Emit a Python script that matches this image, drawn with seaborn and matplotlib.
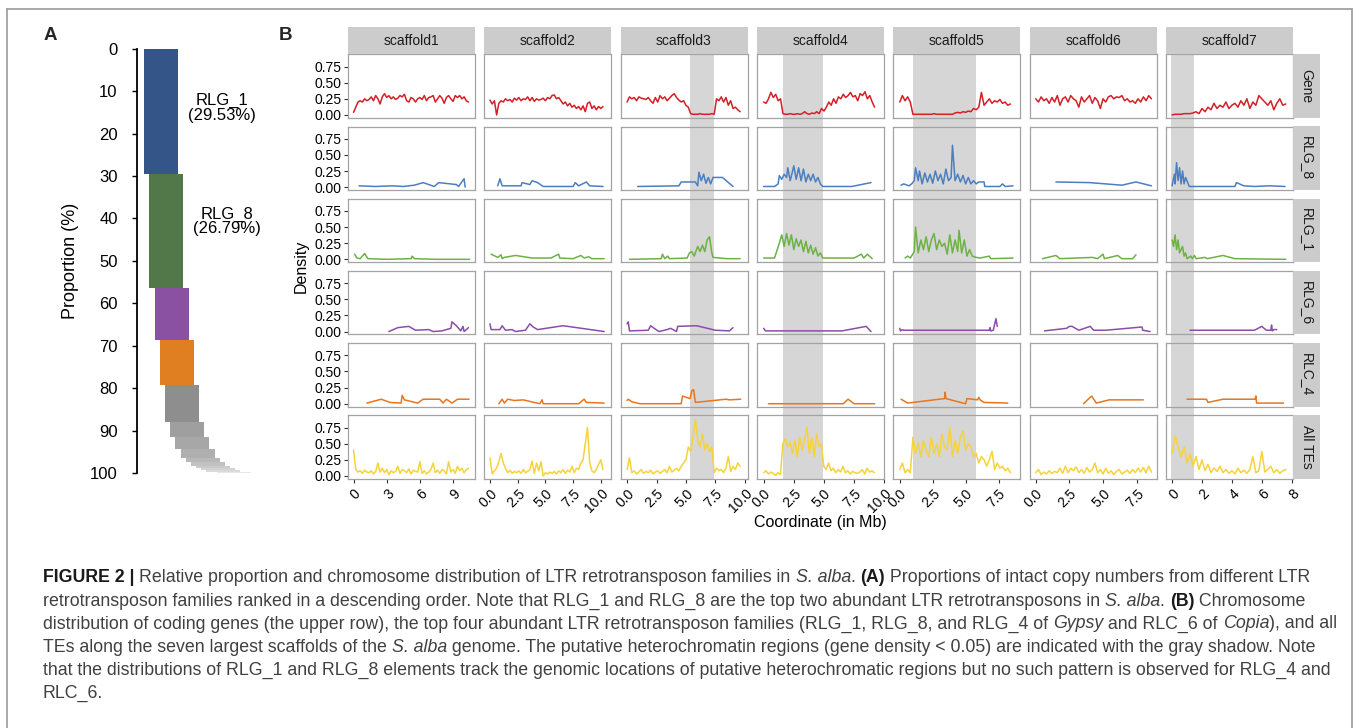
import numpy as np
import pandas as pd
import matplotlib
matplotlib.use('Agg')
import matplotlib.pyplot as plt
import matplotlib.transforms as mtransforms
from matplotlib.patches import Rectangle
from matplotlib.lines import Line2D
import seaborn as sns

#---------------------------- DATA: panel A --------------------------------
family_names = ['RLG_1', 'RLG_8', 'RLG_6', 'RLC_4'] + ['other'] * 11
family_props = [29.53, 26.79, 12.4, 10.6, 8.6, 3.5, 3.0, 2.0, 1.1, 0.8, 0.6, 0.45, 0.3, 0.2, 0.13]

#---------------------------- DATA: panel B --------------------------------
scaffolds = ['scaffold1', 'scaffold2', 'scaffold3', 'scaffold4', 'scaffold5', 'scaffold6', 'scaffold7']
tracks = ['Gene', 'RLG_8', 'RLG_1', 'RLG_6', 'RLC_4', 'All TEs']
window = 0.2   # Mb, window size of the dense density tracks

# Gene density, one value per window
gene_s1 = [0.04, 0.12, 0.2, 0.22, 0.2, 0.25, 0.22, 0.24, 0.28, 0.22, 0.3, 0.25, 0.17, 0.28, 0.33, 0.27, 0.3, 0.25,
           0.28, 0.24, 0.26, 0.3, 0.28, 0.32, 0.22, 0.2, 0.27, 0.25, 0.2, 0.25, 0.27, 0.24, 0.3, 0.22, 0.27, 0.28,
           0.3, 0.2, 0.25, 0.3, 0.26, 0.18, 0.27, 0.3, 0.25, 0.21, 0.3, 0.27, 0.3, 0.25, 0.28, 0.22, 0.2]
gene_s2 = [0.23, 0.17, 0.22, 0.0, 0.18, 0.22, 0.2, 0.25, 0.22, 0.24, 0.2, 0.26, 0.23, 0.27, 0.22, 0.25, 0.24, 0.28,
           0.22, 0.27, 0.21, 0.25, 0.23, 0.24, 0.26, 0.22, 0.27, 0.25, 0.3, 0.31, 0.25, 0.27, 0.22, 0.17, 0.2, 0.14,
           0.18, 0.12, 0.15, 0.1, 0.13, 0.08, 0.14, 0.05, 0.18, 0.2, 0.1, 0.14, 0.08, 0.13, 0.1, 0.13]
gene_s3 = [0.2, 0.28, 0.25, 0.27, 0.22, 0.28, 0.26, 0.25, 0.24, 0.27, 0.22, 0.18, 0.27, 0.2, 0.3, 0.25, 0.28, 0.22,
           0.26, 0.3, 0.33, 0.27, 0.23, 0.2, 0.22, 0.15, 0.12, 0.02, 0.01, 0.01, 0.01, 0.02, 0.01, 0.01, 0.01, 0.01,
           0.02, 0.01, 0.25, 0.22, 0.28, 0.2, 0.27, 0.15, 0.22, 0.1, 0.12, 0.08, 0.05]
gene_s4 = [0.2, 0.18, 0.25, 0.35, 0.27, 0.32, 0.22, 0.25, 0.02, 0.01, 0.01, 0.02, 0.01, 0.01, 0.02, 0.01, 0.02, 0.05,
           0.02, 0.01, 0.03, 0.02, 0.05, 0.02, 0.1, 0.06, 0.12, 0.2, 0.15, 0.25, 0.18, 0.28, 0.25, 0.32, 0.27, 0.3,
           0.35, 0.28, 0.3, 0.22, 0.33, 0.3, 0.36, 0.25, 0.3, 0.2, 0.12]
gene_s5 = [0.2, 0.3, 0.22, 0.28, 0.2, 0.01, 0.01, 0.01, 0.01, 0.01, 0.01, 0.01, 0.01, 0.02, 0.01, 0.01, 0.01, 0.01,
           0.01, 0.01, 0.01, 0.03, 0.04, 0.03, 0.05, 0.04, 0.06, 0.05, 0.1, 0.08, 0.12, 0.35, 0.15, 0.2, 0.25, 0.18,
           0.22, 0.2, 0.24, 0.18, 0.2, 0.15, 0.17]
gene_s6 = [0.25, 0.2, 0.28, 0.22, 0.25, 0.18, 0.27, 0.2, 0.3, 0.15, 0.25, 0.28, 0.2, 0.3, 0.25, 0.22, 0.12, 0.28,
           0.2, 0.25, 0.3, 0.18, 0.27, 0.22, 0.1, 0.25, 0.2, 0.28, 0.3, 0.25, 0.28, 0.27, 0.3, 0.22, 0.25, 0.2,
           0.22, 0.18, 0.25, 0.2, 0.28, 0.22, 0.3, 0.25]
gene_s7 = [0.0, 0.01, 0.01, 0.01, 0.02, 0.02, 0.02, 0.03, 0.05, 0.02, 0.1, 0.05, 0.12, 0.08, 0.18, 0.1, 0.15, 0.12,
           0.2, 0.1, 0.15, 0.18, 0.12, 0.22, 0.15, 0.25, 0.1, 0.2, 0.15, 0.3, 0.25, 0.2, 0.15, 0.22, 0.08, 0.18,
           0.25, 0.15, 0.17]

# All TEs density, one value per window
tes_s1 = [0.4, 0.1, 0.06, 0.08, 0.04, 0.09, 0.06, 0.05, 0.08, 0.03, 0.07, 0.2, 0.06, 0.12, 0.05, 0.1, 0.02, 0.08,
          0.05, 0.07, 0.15, 0.04, 0.1, 0.08, 0.05, 0.11, 0.03, 0.09, 0.07, 0.06, 0.22, 0.04, 0.08, 0.03, 0.06, 0.1,
          0.2, 0.05, 0.09, 0.04, 0.1, 0.08, 0.03, 0.22, 0.06, 0.1, 0.04, 0.15, 0.08, 0.12, 0.05, 0.1, 0.12]
tes_s2 = [0.28, 0.03, 0.08, 0.12, 0.22, 0.35, 0.2, 0.12, 0.05, 0.09, 0.04, 0.07, 0.05, 0.08, 0.04, 0.1, 0.05, 0.07,
          0.1, 0.23, 0.04, 0.2, 0.08, 0.22, 0.0, 0.05, 0.03, 0.06, 0.04, 0.07, 0.03, 0.08, 0.05, 0.1, 0.04, 0.09,
          0.06, 0.15, 0.05, 0.12, 0.1, 0.2, 0.25, 0.5, 0.75, 0.2, 0.08, 0.05, 0.1, 0.18, 0.25, 0.1]
tes_s3 = [0.1, 0.28, 0.05, 0.08, 0.03, 0.06, 0.1, 0.04, 0.07, 0.05, 0.09, 0.03, 0.06, 0.08, 0.04, 0.07, 0.1, 0.05,
          0.15, 0.06, 0.09, 0.12, 0.08, 0.15, 0.2, 0.25, 0.45, 0.38, 0.6, 0.88, 0.55, 0.45, 0.65, 0.4, 0.5, 0.38,
          0.45, 0.05, 0.12, 0.08, 0.1, 0.05, 0.12, 0.3, 0.07, 0.15, 0.1, 0.2, 0.15]
tes_s4 = [0.05, 0.08, 0.03, 0.06, 0.04, 0.01, 0.05, 0.02, 0.5, 0.58, 0.45, 0.52, 0.35, 0.55, 0.3, 0.6, 0.4, 0.55,
          0.75, 0.35, 0.6, 0.3, 0.65, 0.45, 0.5, 0.15, 0.1, 0.2, 0.08, 0.12, 0.05, 0.1, 0.06, 0.15, 0.05, 0.08,
          0.03, 0.07, 0.05, 0.04, 0.06, 0.1, 0.03, 0.12, 0.06, 0.08, 0.05]
tes_s5 = [0.1, 0.2, 0.05, 0.1, 0.05, 0.6, 0.35, 0.5, 0.3, 0.55, 0.4, 0.3, 0.6, 0.35, 0.5, 0.3, 0.65, 0.45, 0.4,
          0.75, 0.3, 0.55, 0.35, 0.6, 0.7, 0.4, 0.5, 0.45, 0.3, 0.35, 0.2, 0.3, 0.25, 0.15, 0.25, 0.38, 0.1, 0.2,
          0.12, 0.15, 0.08, 0.12, 0.05]
tes_s6 = [0.05, 0.1, 0.02, 0.06, 0.03, 0.08, 0.04, 0.07, 0.05, 0.12, 0.04, 0.15, 0.05, 0.12, 0.08, 0.14, 0.05, 0.1,
          0.04, 0.13, 0.06, 0.1, 0.2, 0.05, 0.1, 0.03, 0.12, 0.04, 0.08, 0.02, 0.07, 0.1, 0.03, 0.06, 0.09, 0.04,
          0.1, 0.05, 0.12, 0.06, 0.13, 0.05, 0.15, 0.06]
tes_s7 = [0.35, 0.62, 0.45, 0.3, 0.45, 0.2, 0.35, 0.15, 0.3, 0.1, 0.25, 0.08, 0.18, 0.05, 0.12, 0.07, 0.15, 0.05,
          0.1, 0.04, 0.08, 0.03, 0.12, 0.05, 0.09, 0.04, 0.1, 0.3, 0.05, 0.08, 0.38, 0.06, 0.1, 0.15, 0.05, 0.1,
          0.04, 0.08, 0.1]

# sparse families, (position Mb, density)
rlg8_s1 = [(0.5, 0.02), (2.0, 0.01), (3.5, 0.02), (4.5, 0.01), (5.5, 0.03), (6.3, 0.07), (7.3, 0.01), (7.7, 0.07),
           (9.3, 0.04), (9.5, 0.01), (10.0, 0.13), (10.1, 0.0)]
rlg8_s2 = [(0.7, 0.02), (0.9, 0.13), (1.1, 0.02), (2.8, 0.02), (2.9, 0.07), (3.6, 0.04), (3.8, 0.1), (4.3, 0.07),
           (4.8, 0.01), (7.5, 0.01), (7.7, 0.07), (8.0, 0.02), (8.7, 0.08), (9.0, 0.02), (10.2, 0.01)]
rlg8_s3 = [(0.9, 0.01), (4.4, 0.02), (4.6, 0.08), (5.8, 0.08), (6.0, 0.02), (6.1, 0.23), (6.3, 0.1), (6.5, 0.2),
           (6.7, 0.06), (6.9, 0.15), (7.1, 0.05), (7.3, 0.15), (8.1, 0.15), (9.0, 0.01)]
rlg8_s4 = [(0.0, 0.01), (0.9, 0.01), (1.2, 0.05), (1.3, 0.18), (1.5, 0.12), (1.7, 0.2), (1.9, 0.15), (2.0, 0.3),
           (2.2, 0.1), (2.4, 0.25), (2.5, 0.33), (2.7, 0.12), (2.9, 0.3), (3.1, 0.1), (3.3, 0.28), (3.5, 0.08),
           (3.7, 0.2), (3.9, 0.1), (4.1, 0.2), (4.3, 0.08), (4.5, 0.15), (4.7, 0.05), (4.9, 0.01), (7.3, 0.01),
           (8.9, 0.07)]
rlg8_s5 = [(0.1, 0.03), (0.3, 0.05), (0.7, 0.02), (0.9, 0.05), (1.1, 0.1), (1.2, 0.3), (1.4, 0.1), (1.5, 0.25),
           (1.7, 0.05), (1.9, 0.22), (2.1, 0.08), (2.3, 0.2), (2.5, 0.06), (2.7, 0.25), (2.9, 0.1), (3.1, 0.2),
           (3.3, 0.05), (3.5, 0.28), (3.7, 0.1), (3.9, 0.15), (4.0, 0.65), (4.2, 0.1), (4.4, 0.2), (4.6, 0.08),
           (4.8, 0.18), (5.0, 0.05), (5.2, 0.15), (5.4, 0.05), (5.6, 0.1), (5.8, 0.05), (6.0, 0.08), (6.4, 0.08),
           (6.45, 0.01), (7.6, 0.01), (7.8, 0.05), (8.0, 0.01), (8.6, 0.02)]
rlg8_s6 = [(1.5, 0.08), (4.0, 0.07), (6.4, 0.03), (7.45, 0.08), (8.6, 0.02)]
rlg8_s7 = [(0.0, 0.02), (0.15, 0.2), (0.2, 0.05), (0.3, 0.38), (0.4, 0.1), (0.5, 0.3), (0.6, 0.05), (0.7, 0.25),
           (0.8, 0.05), (0.9, 0.15), (1.15, 0.01), (4.2, 0.01), (4.3, 0.07), (4.8, 0.02), (5.5, 0.01), (6.5, 0.02),
           (7.55, 0.01)]

rlg1_s1 = [(0.1, 0.08), (0.3, 0.02), (0.6, 0.01), (1.0, 0.09), (1.3, 0.01), (3.0, 0.0), (5.2, 0.01), (5.3, 0.05),
           (5.5, 0.01), (7.5, 0.0), (10.5, 0.0)]
rlg1_s2 = [(0.1, 0.08), (0.7, 0.03), (1.0, 0.07), (1.1, 0.01), (1.3, 0.03), (2.3, 0.06), (3.8, 0.02), (5.5, 0.02),
           (6.2, 0.08), (6.3, 0.02), (7.5, 0.01), (8.2, 0.06), (8.5, 0.02), (8.9, 0.04), (9.2, 0.01), (10.3, 0.01)]
rlg1_s3 = [(0.2, 0.0), (2.9, 0.01), (3.0, 0.08), (3.2, 0.01), (3.45, 0.05), (3.6, 0.01), (5.1, 0.02), (5.3, 0.1),
           (5.5, 0.12), (5.7, 0.05), (6.0, 0.2), (6.2, 0.12), (6.4, 0.22), (6.6, 0.12), (6.8, 0.3), (7.0, 0.35),
           (7.2, 0.1), (7.3, 0.03), (8.5, 0.01), (9.6, 0.01)]
rlg1_s4 = [(0.0, 0.02), (0.9, 0.02), (1.3, 0.25), (1.5, 0.38), (1.7, 0.2), (1.9, 0.4), (2.1, 0.22), (2.3, 0.38),
           (2.5, 0.15), (2.7, 0.32), (2.9, 0.2), (3.1, 0.3), (3.3, 0.12), (3.5, 0.28), (3.7, 0.1), (3.9, 0.22),
           (4.1, 0.08), (4.3, 0.18), (4.5, 0.05), (4.7, 0.1), (4.9, 0.02), (7.5, 0.02), (8.1, 0.08), (8.3, 0.02),
           (8.6, 0.08), (9.0, 0.01)]
rlg1_s5 = [(0.4, 0.02), (0.6, 0.05), (0.8, 0.02), (1.1, 0.12), (1.2, 0.5), (1.4, 0.1), (1.6, 0.3), (1.8, 0.15),
           (2.0, 0.35), (2.2, 0.12), (2.4, 0.3), (2.6, 0.4), (2.8, 0.15), (3.0, 0.3), (3.2, 0.2), (3.4, 0.25),
           (3.6, 0.08), (3.8, 0.38), (4.0, 0.1), (4.2, 0.3), (4.4, 0.12), (4.5, 0.45), (4.7, 0.1), (4.9, 0.3),
           (5.1, 0.05), (5.3, 0.15), (5.5, 0.05), (5.8, 0.03), (6.1, 0.02), (6.8, 0.05), (6.9, 0.01), (8.6, 0.02)]
rlg1_s6 = [(0.5, 0.01), (1.5, 0.06), (1.8, 0.01), (4.2, 0.03), (4.6, 0.01), (5.0, 0.08), (5.1, 0.01), (6.1, 0.06),
           (6.4, 0.01), (7.2, 0.01), (7.45, 0.07)]
rlg1_s7 = [(0.0, 0.3), (0.1, 0.2), (0.2, 0.38), (0.3, 0.15), (0.4, 0.3), (0.5, 0.1), (0.7, 0.2), (0.8, 0.05),
           (0.9, 0.1), (1.0, 0.01), (1.25, 0.05), (1.35, 0.01), (1.5, 0.06), (1.6, 0.01), (2.2, 0.03), (2.35, 0.01),
           (3.4, 0.06), (4.2, 0.01), (7.6, 0.0)]

rlg6_s1 = [(3.2, 0.0), (4.0, 0.06), (5.0, 0.08), (5.6, 0.02), (6.8, 0.03), (7.2, 0.0), (8.0, 0.01), (8.8, 0.05),
           (8.9, 0.15), (9.3, 0.09), (9.7, 0.01), (9.9, 0.08), (10.0, 0.0), (10.4, 0.06)]
rlg6_s2 = [(0.0, 0.12), (0.1, 0.03), (0.9, 0.03), (1.1, 0.09), (1.4, 0.02), (2.0, 0.03), (2.3, 0.0), (3.2, 0.02),
           (3.6, 0.12), (3.9, 0.07), (4.3, 0.03), (6.6, 0.09), (10.3, 0.0)]
rlg6_s3 = [(0.0, 0.12), (0.1, 0.15), (0.2, 0.01), (1.8, 0.02), (2.0, 0.09), (2.3, 0.05), (2.7, 0.0), (3.4, 0.03),
           (3.7, 0.05), (4.2, 0.0), (4.3, 0.08), (5.9, 0.09), (7.5, 0.02), (8.7, 0.01), (9.0, 0.06)]
rlg6_s4 = [(0.0, 0.05), (0.15, 0.01), (6.5, 0.01), (8.5, 0.08), (8.9, 0.0)]
rlg6_s5 = [(0.0, 0.05), (0.05, 0.01), (0.2, 0.03), (0.3, 0.02), (6.8, 0.02), (6.85, 0.06), (6.9, 0.01),
           (7.1, 0.02), (7.3, 0.2), (7.4, 0.08)]
rlg6_s6 = [(0.65, 0.01), (2.3, 0.05), (2.5, 0.08), (2.7, 0.08), (3.2, 0.02), (4.05, 0.08), (4.3, 0.02), (5.2, 0.02),
           (7.9, 0.07), (7.95, 0.02), (8.5, 0.0)]
rlg6_s7 = [(1.2, 0.02), (5.5, 0.02), (6.0, 0.08), (6.3, 0.02), (6.6, 0.02), (6.65, 0.1), (6.7, 0.01), (6.8, 0.03),
           (7.0, 0.03)]

rlc4_s1 = [(1.2, 0.01), (2.5, 0.07), (3.3, 0.02), (4.3, 0.01), (4.4, 0.13), (4.6, 0.06), (5.8, 0.01), (6.3, 0.07),
           (7.8, 0.07), (8.1, 0.01), (8.4, 0.07), (8.9, 0.01), (9.4, 0.07), (10.45, 0.07)]
rlc4_s2 = [(0.8, 0.0), (1.1, 0.07), (1.3, 0.01), (1.6, 0.07), (2.2, 0.05), (3.0, 0.06), (4.5, 0.0), (4.7, 0.06),
           (4.8, 0.0), (8.0, 0.0), (8.5, 0.07), (8.7, 0.02), (10.3, 0.01)]
rlc4_s3 = [(0.0, 0.05), (0.1, 0.07), (0.4, 0.03), (1.1, 0.0), (4.6, 0.0), (4.7, 0.12), (5.35, 0.08), (5.5, 0.2),
           (5.65, 0.22), (5.8, 0.02), (8.4, 0.07), (8.7, 0.06), (9.65, 0.07)]
rlc4_s4 = [(0.4, 0.0), (6.6, 0.0), (7.0, 0.07), (7.5, 0.0), (9.2, 0.0)]
rlc4_s5 = [(0.1, 0.07), (0.6, 0.01), (3.4, 0.08), (3.45, 0.18), (3.5, 0.08), (5.0, 0.0), (5.1, 0.08), (5.9, 0.06),
           (6.0, 0.1), (6.1, 0.06), (6.4, 0.02), (8.2, 0.01)]
rlc4_s6 = [(3.55, 0.0), (4.15, 0.12), (4.5, 0.01), (5.45, 0.06), (8.0, 0.06)]
rlc4_s7 = [(1.0, 0.07), (2.3, 0.07), (2.4, 0.02), (3.4, 0.07), (5.55, 0.07), (5.6, 0.12), (5.65, 0.01), (7.45, 0.01)]

# putative heterochromatin (gene density < 0.05), Mb
shade_spans = {'scaffold3': (5.35, 7.4), 'scaffold4': (1.62, 4.88), 'scaffold5': (1.0, 5.79), 'scaffold7': (-0.1, 1.45)}

# x scales of each column
x_limits = [(-0.53, 10.96), (-0.53, 10.93), (-0.56, 10.23), (-0.56, 9.97), (-0.49, 9.15), (-0.45, 8.99), (-0.40, 8.09)]
x_ticks = [[0, 3, 6, 9], [0, 2.5, 5, 7.5, 10], [0, 2.5, 5, 7.5, 10], [0, 2.5, 5, 7.5, 10],
           [0, 2.5, 5, 7.5], [0, 2.5, 5, 7.5], [0, 2, 4, 6, 8]]
x_ticklabels = [['0', '3', '6', '9'], ['0.0', '2.5', '5.0', '7.5', '10.0'], ['0.0', '2.5', '5.0', '7.5', '10.0'],
                ['0.0', '2.5', '5.0', '7.5', '10.0'], ['0.0', '2.5', '5.0', '7.5'], ['0.0', '2.5', '5.0', '7.5'],
                ['0', '2', '4', '6', '8']]
y_ticks = [0.0, 0.25, 0.5, 0.75]
y_ticklabels = ['0.00', '0.25', '0.50', '0.75']

caption_lines = [
    [("FIGURE 2 | ", 'b'), ("Relative proportion and chromosome distribution of LTR retrotransposon families in ", 'n'),
     ("S. alba", 'i'), (". ", 'n'), ("(A)", 'b'), (" Proportions of intact copy numbers from different LTR", 'n')],
    [("retrotransposon families ranked in a descending order. Note that RLG_1 and RLG_8 are the top two abundant LTR "
      "retrotransposons in ", 'n'), ("S. alba", 'i'), (". ", 'n'), ("(B)", 'b'), (" Chromosome", 'n')],
    [("distribution of coding genes (the upper row), the top four abundant LTR retrotransposon families (RLG_1, RLG_8, "
      "and RLG_4 of ", 'n'), ("Gypsy", 'i'), (" and RLC_6 of ", 'n'), ("Copia", 'i'), ("), and all", 'n')],
    [("TEs along the seven largest scaffolds of the ", 'n'), ("S. alba", 'i'),
     (" genome. The putative heterochromatin regions (gene density < 0.05) are indicated with the gray shadow. Note", 'n')],
    [("that the distributions of RLG_1 and RLG_8 elements track the genomic locations of putative heterochromatic "
      "regions but no such pattern is observed for RLG_4 and", 'n')],
    [("RLC_6.", 'n')],
]

#---------------------------- build long table -----------------------------
records = []
dense = {'Gene': [gene_s1, gene_s2, gene_s3, gene_s4, gene_s5, gene_s6, gene_s7],
         'All TEs': [tes_s1, tes_s2, tes_s3, tes_s4, tes_s5, tes_s6, tes_s7]}
sparse = {'RLG_8': [rlg8_s1, rlg8_s2, rlg8_s3, rlg8_s4, rlg8_s5, rlg8_s6, rlg8_s7],
          'RLG_1': [rlg1_s1, rlg1_s2, rlg1_s3, rlg1_s4, rlg1_s5, rlg1_s6, rlg1_s7],
          'RLG_6': [rlg6_s1, rlg6_s2, rlg6_s3, rlg6_s4, rlg6_s5, rlg6_s6, rlg6_s7],
          'RLC_4': [rlc4_s1, rlc4_s2, rlc4_s3, rlc4_s4, rlc4_s5, rlc4_s6, rlc4_s7]}
for tr, lists in dense.items():
    for sc, vals in zip(scaffolds, lists):
        for k, v in enumerate(vals):
            records.append((sc, tr, k * window, v))
for tr, lists in sparse.items():
    for sc, pairs in zip(scaffolds, lists):
        for p, v in pairs:
            records.append((sc, tr, p, v))
df = pd.DataFrame(records, columns=['scaffold', 'track', 'pos', 'density'])

#---------------------------- style ----------------------------------------
sns.set_theme(style='white')
plt.rcParams['font.family'] = ['Liberation Sans', 'DejaVu Sans']
track_colors = {'Gene': '#d41f26', 'RLG_8': '#4c7ec0', 'RLG_1': '#6cb244', 'RLG_6': '#8e4caa',
                'RLC_4': '#e8761f', 'All TEs': '#f6d23c'}
bar_colors = ['#335587', '#52784a', '#8a50a2', '#e07e22', '#8e8e8e', '#9f9f9f', '#a7a7a7', '#afafaf',
              '#b8b8b8', '#c1c1c1', '#cacaca', '#d2d2d2', '#dadada', '#e1e1e1', '#e8e8e8']

W, H = 1357, 728
fig = plt.figure(figsize=(W / 100, H / 100), dpi=100)
fig.patch.set_facecolor('white')

def box(l, t, w, h):
    return [l / W, 1 - (t + h) / H, w / W, h / H]

# frame around the figure
for xs, ys in [([7, 7], [9, H]), ([1352, 1352], [9, H]), ([7, 1352], [9, 9])]:
    fig.add_artist(Line2D([x / W for x in xs], [1 - y / H for y in ys], transform=fig.transFigure,
                          color='#9a9a9a', lw=1.2))

fig.text(50 / W, 1 - 36 / H, 'A', fontsize=13.5, fontweight='bold', ha='center', va='center')
fig.text(285 / W, 1 - 36 / H, 'B', fontsize=13.5, fontweight='bold', ha='center', va='center')

#---------------------------- panel A --------------------------------------
axA = fig.add_axes(box(137, 48.7, 123, 424.3))
ranks = np.arange(len(family_props))
starts = np.concatenate([[0], np.cumsum(family_props)[:-1]])
axA.bar(ranks, family_props, bottom=starts, width=6.57, align='edge', color=bar_colors, linewidth=0)
axA.set_xlim(-1.41, 22.36)
axA.set_ylim(100, 0)
axA.set_facecolor('none')
for side in ['top', 'right', 'bottom']:
    axA.spines[side].set_visible(False)
axA.spines['left'].set_color('black')
axA.spines['left'].set_linewidth(1.3)
axA.set_xticks([])
axA.set_yticks(np.arange(0, 101, 10))
axA.tick_params(axis='y', left=True, length=3.4, width=1.0, color='black', pad=10.5, labelsize=12,
                labelcolor='black')
axA.set_ylabel('Proportion (%)', fontsize=13, color='black', labelpad=8)
axA.text(14.96, 14.0, '%s\n(%.2f%%)' % (family_names[0], family_props[0]), ha='center', va='center',
         fontsize=12, linespacing=0.95, color='black')
axA.text(15.9, 40.7, '%s\n(%.2f%%)' % (family_names[1], family_props[1]), ha='center', va='center',
         fontsize=12, linespacing=0.95, color='black')

#---------------------------- panel B --------------------------------------
col_left0, col_pitch, col_w = 347.7, 136.4, 127.0
row_top0, row_pitch, row_h = 54.3, 72.2, 63.4
strip = 27.0
bottom_px = row_top0 + 5 * row_pitch + row_h

for j, sc in enumerate(scaffolds):
    left = col_left0 + j * col_pitch
    top_ax = None
    for i, tr in enumerate(tracks):
        ax = fig.add_axes(box(left, row_top0 + i * row_pitch, col_w, row_h))
        ax.set_facecolor('none')
        sub = df[(df.scaffold == sc) & (df.track == tr)]
        sns.lineplot(data=sub, x='pos', y='density', ax=ax, color=track_colors[tr], linewidth=1.1,
                     estimator=None, sort=False)
        ax.set_xlim(*x_limits[j])
        ax.set_ylim(-0.043, 0.94)
        ax.set_xlabel('')
        ax.set_ylabel('')
        for sp in ax.spines.values():
            sp.set_color('#a3a3a3')
            sp.set_linewidth(0.9)
        if j == 0:
            ax.set_yticks(y_ticks)
            ax.set_yticklabels(y_ticklabels)
            ax.tick_params(axis='y', left=True, length=3.0, width=0.8, color='#333333', pad=1.5,
                           labelsize=10, labelcolor='black')
        else:
            ax.set_yticks([])
        if i == len(tracks) - 1:
            ax.set_xticks(x_ticks[j])
            ax.set_xticklabels(x_ticklabels[j], rotation=45, ha='right', va='top', rotation_mode='anchor')
            ax.tick_params(axis='x', bottom=True, length=3.0, width=0.8, color='#333333', pad=2.5,
                           labelsize=10, labelcolor='black')
        else:
            ax.set_xticks([])
        if i == 0:
            top_ax = ax
        if j == len(scaffolds) - 1:
            # row strip
            fig.add_artist(Rectangle(((left + col_w) / W, 1 - (row_top0 + i * row_pitch + row_h) / H),
                                     strip / W, row_h / H, transform=fig.transFigure,
                                     facecolor='#cccccc', edgecolor='none'))
            fig.text((left + col_w + strip / 2) / W, 1 - (row_top0 + i * row_pitch + row_h / 2) / H, tr,
                     rotation=-90, ha='center', va='center', fontsize=10, color='#1a1a1a')
    # column strip
    fig.add_artist(Rectangle((left / W, 1 - row_top0 / H), col_w / W, strip / H, transform=fig.transFigure,
                             facecolor='#cccccc', edgecolor='none'))
    fig.text((left + col_w / 2) / W, 1 - (row_top0 - strip / 2) / H, sc, ha='center', va='center',
             fontsize=10, color='#1a1a1a')
    # heterochromatin shadow across the whole column
    if sc in shade_spans:
        x0, x1 = shade_spans[sc]
        trans = mtransforms.blended_transform_factory(top_ax.transData, fig.transFigure)
        fig.add_artist(Rectangle((x0, 1 - bottom_px / H), x1 - x0, (bottom_px - row_top0) / H,
                                 transform=trans, facecolor='#d6d6d6', edgecolor='none', zorder=-1))

fig.text(301 / W, 1 - (row_top0 + bottom_px) / 2 / H, 'Density', rotation=90, ha='center', va='center',
         fontsize=11.5, color='black')
fig.text((col_left0 + 6 * col_pitch + col_w + col_left0) / 2 / W, 1 - 523 / H, 'Coordinate (in Mb)',
         ha='center', va='center', fontsize=11.5, color='black')

#---------------------------- caption --------------------------------------
renderer = fig.canvas.get_renderer()

def seg_kw(style, size):
    kw = dict(fontsize=size, va='center', ha='left', color='#404040')
    if style == 'b':
        kw.update(fontweight='bold', color='#1a1a1a')
    if style == 'i':
        kw['fontstyle'] = 'italic'
    return kw

def draw_line(segments, x_px, y_px, size, visible=True):
    x = x_px
    for txt, style in segments:
        t = fig.text(x / W, 1 - y_px / H, txt, **seg_kw(style, size))
        x += t.get_window_extent(renderer).width
        if not visible:
            t.remove()
    return x - x_px

base = 10.0
w0 = draw_line(caption_lines[0], 43, 578, base, visible=False)
cap_size = base * 1269 / w0
for n, line in enumerate(caption_lines):
    draw_line(line, 43, 578 + n * 23.0, cap_size)

fig.savefig('out.png', dpi=100, facecolor='white')
